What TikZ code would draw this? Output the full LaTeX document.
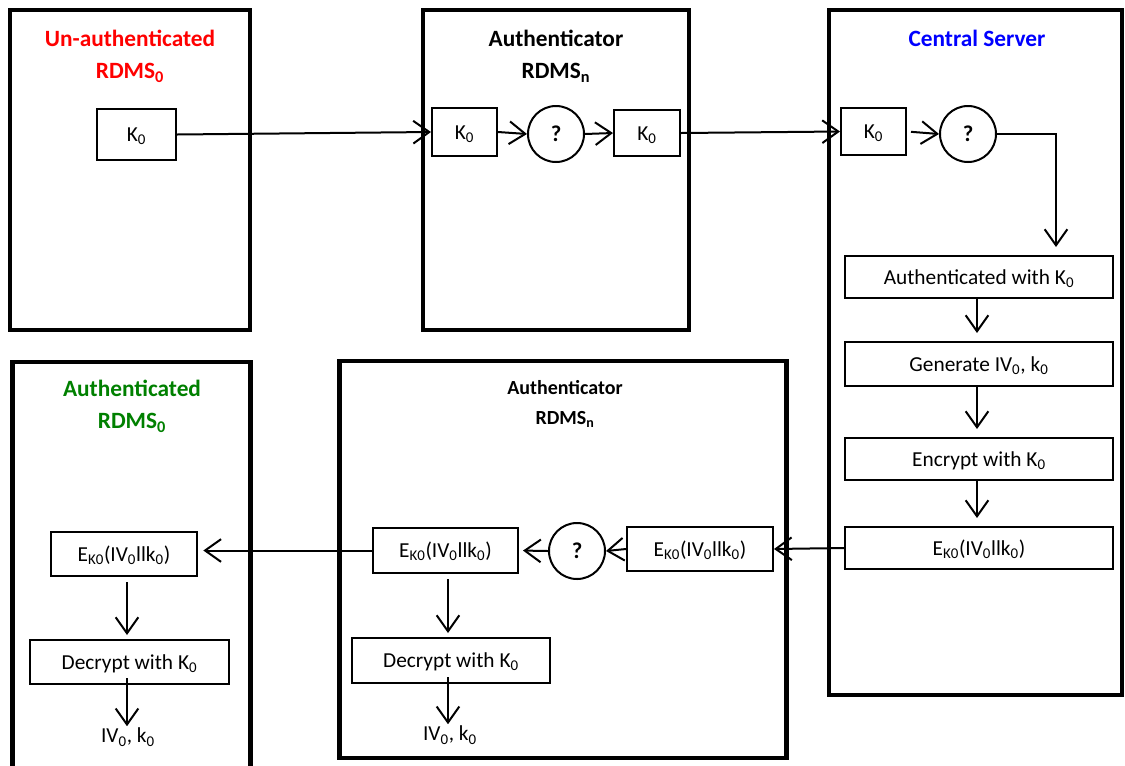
\documentclass[tikz,border=0pt]{standalone}
\usepackage{fontspec}
\setmainfont{Carlito}
\usetikzlibrary{arrows.meta}
\definecolor{titlered}{RGB}{255,0,0}
\definecolor{titleblue}{RGB}{0,0,255}
\definecolor{titlegreen}{RGB}{0,128,0}
\newcommand\lo[1]{\textsubscript{#1}}
\begin{document}
\begin{tikzpicture}[x=0.75pt,y=-0.75pt,
  panel/.style={draw,line width=3.4pt,inner sep=0pt},
  sbox/.style={draw,line width=1.5pt,inner sep=0pt,text height=12.5pt,text depth=2pt,font=\fontsize{16}{19}\selectfont},
  qcirc/.style={draw,circle,line width=1.5pt,inner sep=0pt,minimum size=42pt,font=\fontsize{17}{19}\selectfont\bfseries},
  plain/.style={inner sep=1pt,font=\fontsize{16}{19}\selectfont},
  ttl/.style={inner sep=0pt,font=\fontsize{17.5}{21}\selectfont\bfseries},
  ttlsmall/.style={inner sep=0pt,font=\fontsize{15}{18}\selectfont\bfseries},
  flow/.style={line width=1.5pt,-{Straight Barb[length=12pt,width=17pt,line width=1.5pt]}}]
\useasboundingbox (0,0) rectangle (1125,765);

% panels
\node[panel,minimum width=240pt*0.75,minimum height=320pt*0.75] (pa) at (130,170) {};
\node[panel,minimum width=266pt*0.75,minimum height=320pt*0.75] (pb) at (556,170) {};
\node[panel,minimum width=293pt*0.75,minimum height=685pt*0.75] (pc) at (975.5,352.5) {};
\node[panel,minimum width=238pt*0.75,minimum height=420pt*0.75] (pd) at (131.5,572) {};
\node[panel,minimum width=447pt*0.75,minimum height=397pt*0.75] (pe) at (563,559.5) {};

% titles
\node[ttl,text=titlered] (ta1) at (130,38) {Un-authenticated};
\node[ttl,text=titlered] (ta2) at (130,73) {RDMS\lo{0}};
\node[ttl] (tb1) at (556,38) {Authenticator};
\node[ttl] (tb2) at (556,73) {RDMS\lo{n}};
\node[ttl,text=titleblue] (tc1) at (977,38) {Central Server};
\node[ttl,text=titlegreen] (td1) at (132,388) {Authenticated};
\node[ttl,text=titlegreen] (td2) at (132,423) {RDMS\lo{0}};
\node[ttlsmall] (te1) at (565,388) {Authenticator};
\node[ttlsmall] (te2) at (565,419) {RDMS\lo{n}};

% top row
\node[sbox,minimum width=79pt*0.75,minimum height=51pt*0.75] (ka) at (136.5,134.5) {K\lo{0}};
\node[sbox,minimum width=65pt*0.75,minimum height=48pt*0.75] (kb1) at (464.5,132) {K\lo{0}};
\node[qcirc] (qb) at (556,134) {?};
\node[sbox,minimum width=66pt*0.75,minimum height=46pt*0.75] (kb2) at (647,133) {K\lo{0}};
\node[sbox,minimum width=65pt*0.75,minimum height=47pt*0.75] (kc) at (873.5,131.5) {K\lo{0}};
\node[qcirc] (qc) at (968,134) {?};
\coordinate (cturn) at (1056,134);

% server column
\node[sbox,minimum width=268pt*0.75,minimum height=42pt*0.75] (auth) at (979,277) {Authenticated with K\lo{0}};
\node[sbox,minimum width=268pt*0.75,minimum height=44pt*0.75] (gen) at (979,364) {Generate IV\lo{0}, k\lo{0}};
\node[sbox,minimum width=268pt*0.75,minimum height=42pt*0.75] (enc) at (979,459) {Encrypt with K\lo{0}};
\node[sbox,minimum width=268pt*0.75,minimum height=42pt*0.75] (ekc) at (979,548) {E\lo{K0}(IV\lo{0}llk\lo{0})};

% lower authenticator
\node[sbox,minimum width=146pt*0.75,minimum height=44pt*0.75] (eke2) at (700,549) {E\lo{K0}(IV\lo{0}llk\lo{0})};
\node[qcirc] (qe) at (577,551) {?};
\node[sbox,minimum width=145pt*0.75,minimum height=45pt*0.75] (eke1) at (445.5,550.5) {E\lo{K0}(IV\lo{0}llk\lo{0})};
\node[sbox,minimum width=198pt*0.75,minimum height=45pt*0.75] (dece) at (451,660.5) {Decrypt with K\lo{0}};
\node[plain] (oute) at (450,735) {IV\lo{0}, k\lo{0}};

% authenticated node
\node[sbox,minimum width=146pt*0.75,minimum height=44pt*0.75] (ekd) at (124,554) {E\lo{K0}(IV\lo{0}llk\lo{0})};
\node[sbox,minimum width=199pt*0.75,minimum height=44pt*0.75] (decd) at (129.5,662) {Decrypt with K\lo{0}};
\node[plain] (outd) at (128,737) {IV\lo{0}, k\lo{0}};

% connectors, top row
\draw[flow] (ka.east) -- (kb1.west);
\draw[flow] (kb1.east) -- (qb.west);
\draw[flow] (qb.east) -- (kb2.west);
\draw[flow] (kb2.east) -- (kc.west);
\draw[flow,shorten <=3pt] (kc.east) -- (qc.west);
\draw[flow,shorten >=6pt] (qc.east) -- (cturn) -- (cturn |- auth.north);

% server column
\draw[flow,shorten >=6pt] (auth.south -| 977,0) -- (gen.north -| 977,0);
\draw[flow,shorten >=6pt] (gen.south -| 977,0) -- (enc.north -| 977,0);
\draw[flow,shorten >=6pt] (enc.south -| 977,0) -- (ekc.north -| 977,0);

% return path
\draw[flow] (ekc.west) -- (eke2.east);
\draw[flow] (eke2.west) -- (qe.east);
\draw[flow,shorten >=3pt] (qe.west) -- (eke1.east);
\draw[flow,shorten >=4pt] (eke1.west) -- (eke1.west -| ekd.east);

% decryption steps
\draw[flow,shorten <=4pt,shorten >=3pt] (eke1.south -| 448,0) -- (dece.north -| 448,0);
\draw[flow,shorten <=-5pt] (dece.south -| 448,0) -- (oute.north -| 448,0);
\draw[flow,shorten <=4pt,shorten >=3pt] (ekd.south -| 127,0) -- (decd.north -| 127,0);
\draw[flow,shorten <=-5pt] (decd.south -| 127,0) -- (outd.north -| 127,0);
\end{tikzpicture}
\end{document}
